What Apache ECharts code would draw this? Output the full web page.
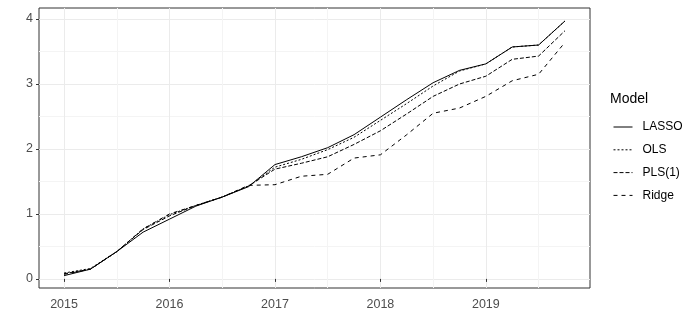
<!DOCTYPE html>
<html>
<head>
<meta charset="utf-8">
<script src="https://cdn.jsdelivr.net/npm/echarts@6/dist/echarts.min.js"></script>
<style>html,body{margin:0;padding:0;background:#fff}#c{width:696px;height:334px}</style>
</head>
<body>
<div id="c"></div>
<script>
const quarters = [2015, 2015.25, 2015.5, 2015.75, 2016, 2016.25, 2016.5, 2016.75, 2017, 2017.25, 2017.5, 2017.75, 2018, 2018.25, 2018.5, 2018.75, 2019, 2019.25, 2019.5, 2019.75];
const lasso = [0.05, 0.15, 0.42, 0.72, 0.92, 1.12, 1.26, 1.42, 1.76, 1.88, 2.02, 2.22, 2.49, 2.76, 3.02, 3.21, 3.31, 3.57, 3.60, 3.97];
const ols   = [0.09, 0.16, 0.42, 0.77, 0.99, 1.13, 1.26, 1.43, 1.72, 1.84, 1.99, 2.18, 2.44, 2.70, 2.97, 3.20, 3.31, 3.57, 3.60, 3.97];
const pls   = [0.08, 0.15, 0.42, 0.76, 0.97, 1.13, 1.26, 1.43, 1.69, 1.78, 1.88, 2.07, 2.28, 2.54, 2.81, 3.00, 3.12, 3.38, 3.43, 3.82];
const ridge = [0.07, 0.15, 0.42, 0.77, 1.00, 1.13, 1.26, 1.44, 1.45, 1.58, 1.61, 1.86, 1.91, 2.22, 2.55, 2.63, 2.81, 3.05, 3.15, 3.64];
const modelNames = ['LASSO', 'OLS', 'PLS(1)', 'Ridge'];
const xTicks = [2015, 2016, 2017, 2018, 2019];
const xMinor = [2015.5, 2016.5, 2017.5, 2018.5, 2019.5];
const yTicks = [0, 1, 2, 3, 4];
const yMinor = [0.5, 1.5, 2.5, 3.5];

const X_MIN = 2014.7625, X_MAX = 2019.9875, Y_MIN = -0.14, Y_MAX = 4.17;
const values = [lasso, ols, pls, ridge];
const dashes = ['solid', [2, 2], [4, 2], [4, 4]];

const chart = echarts.init(document.getElementById('c'), null, {renderer: 'canvas'});
const labelFont = {color: '#4D4D4D', fontSize: 12.5, fontFamily: 'Liberation Sans, Arial, sans-serif'};
chart.setOption({
  animation: false,
  backgroundColor: '#ffffff',
  grid: {left: 39, top: 8, width: 551, height: 280, show: true, borderColor: '#333333', borderWidth: 1, backgroundColor: 'transparent'},
  title: {text: 'Model', left: 610, top: 92, padding: 0,
    textStyle: {fontSize: 14, fontWeight: 'normal', color: '#000', fontFamily: 'Liberation Sans, Arial, sans-serif'}},
  legend: {
    orient: 'vertical', left: 613, top: 121, padding: 0,
    itemWidth: 19, itemHeight: 14, itemGap: 10.8,
    data: modelNames,
    itemStyle: {opacity: 0},
    lineStyle: {width: 1},
    textStyle: {fontSize: 12, color: '#000', fontFamily: 'Liberation Sans, Arial, sans-serif', padding: [0, 0, 0, 5]}
  },
  xAxis: [
    {type: 'value', min: X_MIN, max: X_MAX, gridIndex: 0,
      axisLine: {show: false},
      axisTick: {show: true, length: 3, lineStyle: {color: '#333333'}, customValues: xTicks},
      axisLabel: {show: true, margin: 10, customValues: xTicks, formatter: v => String(Math.round(v)), ...labelFont},
      splitLine: {show: true, lineStyle: {color: '#EBEBEB', width: 1}}},
    {type: 'value', min: X_MIN, max: X_MAX, gridIndex: 0,
      axisLine: {show: false},
      axisTick: {show: false, customValues: xMinor},
      axisLabel: {show: false, customValues: xMinor},
      splitLine: {show: true, lineStyle: {color: '#F4F4F4', width: 1}}}
  ],
  yAxis: [
    {type: 'value', min: Y_MIN, max: Y_MAX, gridIndex: 0,
      axisLine: {show: false},
      axisTick: {show: true, length: 3, lineStyle: {color: '#333333'}, customValues: yTicks},
      axisLabel: {show: true, margin: 6, customValues: yTicks, formatter: v => String(Math.round(v)), ...labelFont},
      splitLine: {show: true, lineStyle: {color: '#EBEBEB', width: 1}}},
    {type: 'value', min: Y_MIN, max: Y_MAX, gridIndex: 0,
      axisLine: {show: false},
      axisTick: {show: false, customValues: yMinor},
      axisLabel: {show: false, customValues: yMinor},
      splitLine: {show: true, lineStyle: {color: '#F4F4F4', width: 1}}}
  ],
  series: modelNames.map((name, i) => ({
    name: name, type: 'line', xAxisIndex: 0, yAxisIndex: 0,
    symbol: 'none', showSymbol: false,
    data: quarters.map((q, j) => [q, values[i][j]]),
    lineStyle: {color: '#000000', width: 1, type: dashes[i]},
    itemStyle: {color: '#000000'},
    z: 10 - i
  }))
});
</script>
</body>
</html>
